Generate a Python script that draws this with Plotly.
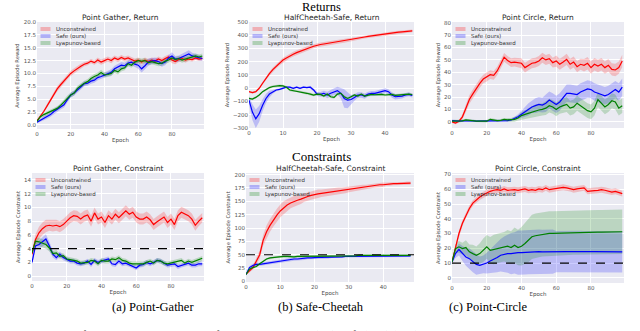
import plotly.graph_objects as go

## Data ##
ep100 = list(range(0, 100, 2))
ep50 = list(range(0, 49))

# Point Gather, Return
gather_ret_red = [0.8, 1.6, 2.6, 3.7, 4.8, 6.0, 7.0, 7.8, 8.6, 9.3,
                  10.0, 10.5, 11.0, 11.4, 11.8, 12.0, 12.4, 12.1, 12.6, 12.2,
                  12.5, 12.8, 12.5, 13.0, 12.7, 13.1, 12.8, 13.0, 12.7, 12.4,
                  12.6, 12.2, 12.6, 12.3, 12.6, 12.4, 12.8, 12.5, 12.9, 13.2,
                  12.6, 12.3, 12.7, 12.9, 12.6, 12.8, 12.7, 13.0, 12.8, 12.9]
gather_ret_blue = [0.5, 0.9, 1.3, 1.6, 2.0, 2.6, 3.0, 3.5, 3.9, 4.9,
                   5.8, 6.2, 6.8, 7.4, 8.0, 8.1, 8.5, 8.7, 9.2, 9.4,
                   9.7, 10.0, 10.2, 10.9, 11.2, 11.6, 11.5, 12.0, 12.2, 11.8,
                   11.6, 10.9, 11.5, 12.2, 12.4, 12.5, 12.3, 11.9, 12.2, 13.0,
                   13.4, 12.8, 12.9, 13.2, 13.5, 13.8, 13.4, 13.2, 13.0, 12.9]
gather_ret_green = [0.7, 1.6, 2.0, 2.3, 2.6, 2.9, 3.2, 3.8, 4.5, 5.2,
                    5.8, 6.2, 7.1, 7.6, 8.1, 8.4, 9.0, 9.4, 9.7, 10.2,
                    9.7, 9.8, 10.0, 10.6, 10.3, 10.9, 11.1, 11.9, 11.6, 12.2,
                    12.5, 12.4, 12.5, 12.1, 12.3, 12.1, 11.9, 12.0, 12.4, 12.6,
                    13.0, 12.7, 12.9, 12.6, 12.8, 13.0, 13.3, 13.4, 13.2, 13.4]
gather_ret_red_sd = [0.2, 0.3, 0.3, 0.4, 0.4, 0.5, 0.5, 0.5, 0.5, 0.5,
                     0.5, 0.5, 0.5, 0.5, 0.4, 0.4, 0.4, 0.4, 0.5, 0.5,
                     0.5, 0.5, 0.5, 0.5, 0.5, 0.5, 0.5, 0.5, 0.5, 0.5,
                     0.5, 0.5, 0.5, 0.5, 0.5, 0.5, 0.5, 0.5, 0.5, 0.5,
                     0.6, 0.5, 0.5, 0.5, 0.5, 0.4, 0.4, 0.4, 0.4, 0.4]
gather_ret_blue_sd = [0.2, 0.3, 0.4, 0.4, 0.4, 0.5, 0.5, 0.5, 0.5, 0.5,
                      0.5, 0.5, 0.5, 0.5, 0.5, 0.5, 0.5, 0.5, 0.5, 0.5,
                      0.5, 0.5, 0.6, 0.6, 0.6, 0.6, 0.6, 0.6, 0.6, 0.6,
                      0.7, 0.7, 0.7, 0.7, 0.6, 0.6, 0.6, 0.6, 0.6, 0.6,
                      0.7, 0.6, 0.6, 0.6, 0.6, 0.7, 0.6, 0.6, 0.5, 0.5]
gather_ret_green_sd = [0.2, 0.3, 0.3, 0.3, 0.4, 0.4, 0.4, 0.4, 0.5, 0.5,
                       0.5, 0.5, 0.5, 0.5, 0.5, 0.5, 0.5, 0.5, 0.5, 0.5,
                       0.5, 0.5, 0.5, 0.5, 0.5, 0.5, 0.5, 0.5, 0.5, 0.5,
                       0.5, 0.5, 0.5, 0.5, 0.5, 0.5, 0.5, 0.5, 0.5, 0.5,
                       0.5, 0.5, 0.5, 0.5, 0.5, 0.5, 0.5, 0.5, 0.5, 0.5]

# HalfCheetah-Safe, Return
cheetah_ret_red = [-26, -33, -26, 0, 38, 77, 110, 141, 167, 192,
                   213, 228, 244, 257, 269, 280, 290, 299, 308, 317,
                   326, 330, 334, 338, 342, 346, 350, 354, 358, 362,
                   367, 372, 377, 382, 387, 392, 396, 400, 404, 407,
                   410, 413, 416, 420, 423, 426, 428, 430, 433]
cheetah_ret_blue = [-90, -180, -231, -192, -128, -77, -44, -26, -13, -8,
                    0, 8, 8, 0, 8, 0, 8, 5, 8, -13,
                    -44, -46, -38, -51, -38, -26, -18, -38, -77, -90,
                    -85, -69, -51, -51, -59, -44, -38, -38, -33, -28,
                    -18, -26, -51, -64, -64, -59, -51, -46, -54]
cheetah_ret_green = [-77, -82, -69, -51, -26, -8, 5, 13, 18, 20,
                     18, 8, -13, -18, -18, -26, -33, -38, -44, -51,
                     -44, -46, -59, -44, -64, -69, -44, -38, -64, -77,
                     -64, -51, -59, -44, -59, -51, -46, -49, -46, -46,
                     -51, -49, -46, -54, -51, -49, -46, -44, -49]
cheetah_ret_red_sd = [8, 8, 8, 10, 12, 14, 15, 16, 17, 18,
                      18, 18, 18, 18, 18, 18, 18, 17, 17, 16,
                      16, 16, 15, 15, 15, 15, 14, 14, 14, 14,
                      13, 13, 13, 13, 12, 12, 12, 12, 12, 12,
                      12, 12, 12, 12, 11, 11, 11, 11, 11]
cheetah_ret_blue_sd = [30, 60, 70, 60, 45, 35, 25, 15, 10, 8,
                       8, 8, 8, 8, 8, 8, 8, 8, 10, 12,
                       15, 18, 20, 25, 25, 25, 30, 40, 70, 60,
                       35, 25, 20, 20, 20, 18, 18, 18, 18, 18,
                       18, 18, 20, 20, 18, 18, 15, 15, 15]
cheetah_ret_green_sd = [8, 8, 8, 8, 8, 8, 8, 9, 9, 9,
                        9, 9, 10, 10, 10, 10, 10, 10, 10, 10,
                        10, 10, 10, 10, 10, 10, 10, 10, 10, 10,
                        10, 10, 10, 10, 10, 10, 10, 10, 10, 10,
                        10, 10, 10, 10, 10, 10, 10, 10, 10]

# Point Circle, Return
circle_ret_red = [0, -1, 0.5, 4, 11, 18, 22.5, 27, 31, 34.5,
                  36, 38, 37.5, 41, 46.4, 52, 49.5, 47.7, 48.2, 47.7,
                  47.2, 43.7, 45.6, 47.2, 47.7, 49, 51.7, 49.9, 50.9, 47.7,
                  49, 46.4, 48.2, 50.4, 46.4, 48.2, 44.5, 46.4, 45.6, 47.2,
                  43.7, 46.4, 45, 46.4, 43.7, 45.6, 42.3, 41.8, 43.7, 49]
circle_ret_blue = [1, 0.5, 0.5, 0.8, 1, 1, 0.8, 0.5, 0.5, 0.5,
                   0.5, 0.5, 0.5, 0.8, 1, 1, 1, 1.5, 2.5, 4,
                   6, 8, 10, 12, 13, 14, 13.5, 15, 17.5, 16,
                   14, 16, 20, 23, 23, 22.5, 22, 24, 25, 26.5,
                   26, 24, 23, 22, 21, 22, 24, 26, 24, 28]
circle_ret_green = [0.5, 0.5, 0.5, 0.8, 1.5, 1, 0.8, 0.5, 0.5, 0.5,
                    0.5, 2, 1.5, 1, 1.2, 2, 1.5, 1.5, 2, 3,
                    5, 6, 7, 8, 9, 9.5, 10, 11, 13, 12,
                    10, 12, 13, 14, 11, 12, 15, 13, 11, 9,
                    8, 11, 18, 15, 12, 14, 17, 16, 11, 13]
circle_ret_red_sd = [1, 1, 1, 2, 3, 3.5, 3.5, 3.5, 3.5, 3.5,
                     3.5, 3.5, 3.5, 3.5, 3.5, 3.5, 3.5, 3.5, 3.5, 3.5,
                     4, 4, 4, 4, 4, 4, 4, 4, 4, 4,
                     4.5, 4.5, 4.5, 4.5, 4.5, 4.5, 4.5, 4.5, 5, 5,
                     5, 5, 5, 5, 5, 5, 5, 5, 5, 5]
circle_ret_blue_sd = [0.8, 0.8, 0.8, 0.8, 0.8, 0.8, 0.8, 0.8, 0.8, 0.8,
                      0.8, 0.8, 0.8, 0.8, 0.8, 1, 1, 1, 1.5, 2,
                      3, 4, 5, 5, 6, 6, 6, 7, 7, 7,
                      7, 7, 7, 7, 7, 7, 7, 7, 7, 7,
                      7, 7, 7, 7, 7, 7, 7, 7, 7, 7]
circle_ret_green_sd = [1, 1, 1, 1, 1, 1, 1, 1, 1, 1,
                       1, 1, 1, 1, 1, 1, 1.5, 1.5, 2, 2,
                       3, 3.5, 4, 4.5, 5, 5, 5, 5.5, 5.5, 5.5,
                       5.5, 5.5, 6, 6, 6, 6, 6, 6, 6, 6,
                       6, 6, 6, 6, 6, 6, 6, 6, 6, 6]

# Point Gather, Constraint
gather_con_red = [3.2, 5.3, 6.3, 6.9, 7.3, 7.4, 7.3, 7.4, 7.2, 7.5,
                  8.0, 8.5, 8.8, 8.7, 8.3, 8.7, 8.9, 8.0, 9.2, 8.3,
                  8.6, 7.8, 8.8, 8.3, 9.0, 8.5, 9.0, 9.5, 9.0, 9.3,
                  8.6, 8.3, 8.3, 8.6, 8.2, 7.5, 7.9, 8.3, 8.6, 7.8,
                  8.3, 7.5, 8.8, 9.3, 9.1, 8.8, 8.3, 7.4, 8.0, 8.5]
gather_con_blue = [2.0, 4.4, 4.6, 5.0, 5.4, 4.4, 3.2, 2.7, 3.2, 2.7,
                   2.4, 2.2, 2.2, 1.9, 1.8, 1.9, 2.2, 1.7, 2.3, 2.0,
                   2.2, 2.4, 2.5, 1.8, 1.7, 2.2, 1.8, 1.9, 1.7, 1.5,
                   1.2, 1.6, 1.7, 2.0, 1.8, 2.0, 2.3, 2.2, 1.9, 1.6,
                   1.7, 1.8, 1.4, 1.6, 1.8, 1.9, 1.6, 1.6, 1.8, 1.8]
gather_con_green = [3.4, 5.1, 5.0, 4.8, 4.6, 4.1, 3.3, 3.4, 2.9, 3.0,
                    2.5, 2.4, 2.3, 2.2, 1.9, 2.0, 2.0, 2.3, 2.2, 1.8,
                    2.3, 2.2, 2.2, 2.5, 2.4, 2.7, 2.3, 2.2, 1.9, 1.8,
                    1.8, 1.7, 1.8, 2.0, 2.2, 1.9, 2.3, 2.2, 1.9, 1.8,
                    1.9, 2.0, 2.2, 2.3, 1.9, 2.2, 2.0, 2.2, 2.3, 2.6]
gather_con_red_sd = [0.5, 0.8, 0.9, 0.9, 0.9, 0.8, 0.8, 0.8, 0.8, 0.8,
                     0.8, 0.8, 0.8, 0.8, 0.8, 0.8, 0.8, 0.8, 0.8, 0.8,
                     0.8, 0.8, 0.8, 0.8, 0.8, 0.8, 0.8, 0.8, 0.8, 0.8,
                     0.8, 0.8, 0.8, 0.8, 0.8, 0.8, 0.8, 0.8, 0.8, 0.8,
                     0.8, 0.8, 0.8, 0.8, 0.8, 0.8, 0.8, 0.8, 0.7, 0.7]
gather_con_blue_sd = [0.3, 0.5, 0.6, 0.7, 0.7, 0.6, 0.5, 0.4, 0.4, 0.4,
                      0.35, 0.35, 0.35, 0.35, 0.35, 0.35, 0.35, 0.35, 0.35, 0.35,
                      0.35, 0.35, 0.35, 0.35, 0.35, 0.35, 0.35, 0.35, 0.35, 0.35,
                      0.35, 0.35, 0.35, 0.35, 0.35, 0.35, 0.35, 0.35, 0.35, 0.35,
                      0.35, 0.35, 0.35, 0.35, 0.35, 0.35, 0.35, 0.35, 0.35, 0.35]
gather_con_green_sd = [0.3, 0.5, 0.6, 0.6, 0.6, 0.5, 0.4, 0.4, 0.35, 0.35,
                       0.35, 0.35, 0.35, 0.35, 0.35, 0.35, 0.35, 0.35, 0.35, 0.35,
                       0.35, 0.35, 0.35, 0.35, 0.35, 0.35, 0.35, 0.35, 0.35, 0.35,
                       0.35, 0.35, 0.35, 0.35, 0.35, 0.35, 0.35, 0.35, 0.35, 0.35,
                       0.35, 0.35, 0.35, 0.35, 0.35, 0.35, 0.35, 0.35, 0.35, 0.35]

# HalfCheetah-Safe, Constraint
cheetah_con_red = [14, 20, 26, 38, 50, 77, 93, 105, 115, 124,
                   132, 138, 143, 147, 150, 152, 154, 157, 159, 161,
                   163, 164, 165, 166, 167, 168, 169, 170, 170, 171,
                   172, 173, 174, 175, 176, 177, 178, 179, 180, 181,
                   181, 182, 182, 183, 183, 183, 183, 184, 184]
cheetah_con_blue = [13, 26, 30, 32, 32, 33, 34, 36, 37, 38,
                    39, 39, 40, 41, 42, 42, 43, 43, 44, 44,
                    45, 45, 45, 45, 45, 46, 46, 46, 46, 47,
                    47, 47, 47, 47, 47, 47, 47, 48, 48, 48,
                    48, 48, 48, 48, 48, 48, 48, 48, 48]
cheetah_con_green = [13, 23, 26, 28, 33, 38, 42, 44, 45, 46,
                     47, 47, 47, 46, 46, 47, 47, 47, 47, 47,
                     47, 48, 48, 47, 47, 47, 48, 48, 48, 48,
                     48, 48, 48, 49, 49, 49, 49, 49, 49, 49,
                     49, 49, 49, 49, 49, 49, 49, 49, 49]
cheetah_con_red_sd = [2, 3, 4, 6, 8, 10, 12, 12, 12, 12,
                      12, 12, 11, 10, 10, 9, 9, 8, 8, 8,
                      8, 8, 7, 7, 7, 6, 6, 6, 6, 6,
                      5, 5, 5, 5, 5, 4, 4, 4, 4, 4,
                      4, 3, 3, 3, 3, 3, 3, 3, 3]
cheetah_con_blue_sd = [2, 3, 3, 3, 3, 3, 3, 3, 3, 3,
                       3, 3, 3, 3, 3, 3, 3, 3, 2.5, 2.5,
                       2.5, 2.5, 2.5, 2.5, 2.5, 2, 2, 2, 2, 2,
                       2, 2, 2, 2, 2, 2, 2, 2, 2, 2,
                       2, 2, 2, 2, 2, 2, 2, 2, 2]
cheetah_con_green_sd = [2, 2, 2, 2, 2, 2, 2, 2, 2, 2,
                        2, 2, 2, 2, 2, 2, 2, 2, 2, 2,
                        2, 2, 2, 2, 2, 2, 2, 2, 2, 2,
                        2, 2, 2, 2, 2, 2, 2, 2, 2, 2,
                        2, 2, 2, 2, 2, 2, 2, 2, 2]

# Point Circle, Constraint
circle_con_red = [10.7, 21, 30, 37, 42.6, 47, 50.6, 52.9, 54.7, 56.3,
                  57.5, 58.6, 59.3, 59.7, 59.3, 60.2, 59.3, 59.7, 59.7, 59.3,
                  59.7, 60.2, 59.3, 59.7, 59.3, 60.2, 59.7, 60.9, 59.7, 60.2,
                  60.6, 60.9, 61.3, 60.9, 60.4, 59.7, 60.2, 60.6, 60.9, 58.6,
                  58.6, 59.1, 59.3, 59.7, 59.3, 58.6, 58.1, 58.6, 57.9, 57.0]
circle_con_blue = [10.7, 16.4, 19.2, 16.4, 14.1, 13, 10.7, 9.1, 8.4, 9.1,
                   10, 11.4, 12.3, 13.7, 15.3, 16, 16.4, 16.4, 16.9, 17.1,
                   17.1, 17.3, 17.5, 17.8, 18, 17.8, 17.6, 17.7, 17.8, 17.8,
                   17.7, 17.8, 17.9, 17.8, 17.8, 17.7, 17.8, 17.9, 17.8, 17.8,
                   17.7, 17.8, 17.8, 17.7, 17.7, 17.8, 17.8, 17.7, 17.6, 17.6]
circle_con_green = [10.7, 19.8, 21, 19.8, 20.5, 17.6, 16.4, 15.3, 16.4, 18.7,
                    21, 18.7, 19.2, 19.8, 20.5, 21, 21.4, 20.5, 22.1, 20.5,
                    21.4, 23.3, 25.5, 27.8, 28.5, 29, 29.4, 29.6, 30.1, 30.1,
                    30.2, 30.3, 30.4, 30.5, 30.5, 30.6, 30.7, 30.8, 30.8, 30.9,
                    30.9, 31, 31, 31, 31.1, 31.1, 31.2, 31.2, 31.2, 31.2]
circle_con_red_sd = [1, 1.5, 2, 2, 2, 2, 2, 2, 2, 2,
                     2, 2, 2, 2, 2, 2, 2, 2, 2, 2,
                     2, 2, 2, 2, 2, 2, 2, 2, 2, 2,
                     2, 2, 2, 2, 2, 2, 2, 2, 2, 2,
                     2, 2, 2, 2, 2, 2, 2, 2, 2, 2]
circle_con_blue_sd = [1, 3, 4, 5, 6, 7, 7, 7, 6, 6,
                      7, 8, 9, 10, 11, 12, 13, 14, 14, 15,
                      15, 15, 15, 15, 15, 15, 15, 15, 15, 15,
                      14, 14, 14, 14, 14, 14, 14, 14, 14, 14,
                      14, 14, 14, 14, 14, 14, 14, 14, 14, 14]
circle_con_green_sd = [1, 3, 4, 4, 5, 5, 6, 6, 7, 8,
                       8, 9, 10, 10, 10, 10, 11, 11, 12, 12,
                       13, 14, 15, 15, 15, 15, 15, 15, 15, 15,
                       15, 15, 15, 15, 15, 15, 15, 15, 15, 15,
                       15, 15, 15, 15, 15, 15, 15, 15, 15, 15]

series_names = ['Unconstrained', 'Safe (ours)', 'Lyapunov-based']
line_colors = ['#ff0000', '#0000ff', '#008000']
band_colors = ['rgba(255,0,0,0.2)', 'rgba(0,0,255,0.2)', 'rgba(0,128,0,0.2)']

W, H = 640, 331

# pixel boxes (left, right, top, bottom) of the six plot areas
panels = [
    dict(box=(37, 204, 22, 129), x=ep100, title='Point Gather, Return', ytitle='Average Episode Reward',
         ys=[gather_ret_red, gather_ret_blue, gather_ret_green],
         sds=[gather_ret_red_sd, gather_ret_blue_sd, gather_ret_green_sd],
         xr=[0, 99], yr=[-0.8, 20.0], dx=20, dy=2.5, fmt='.1f', limit=None),
    dict(box=(249, 414, 22, 128), x=ep50, title='HalfCheetah-Safe, Return', ytitle='Average Episode Reward',
         ys=[cheetah_ret_red, cheetah_ret_blue, cheetah_ret_green],
         sds=[cheetah_ret_red_sd, cheetah_ret_blue_sd, cheetah_ret_green_sd],
         xr=[0, 48.5], yr=[-300, 500], dx=10, dy=100, fmt='d', limit=None),
    dict(box=(452, 624, 22, 128), x=ep100, title='Point Circle, Return', ytitle='Average Episode Reward',
         ys=[circle_ret_red, circle_ret_blue, circle_ret_green],
         sds=[circle_ret_red_sd, circle_ret_blue_sd, circle_ret_green_sd],
         xr=[0, 99], yr=[-5, 80.5], dx=20, dy=10, fmt='d', limit=None),
    dict(box=(32, 204, 173, 281), x=ep100, title='Point Gather, Constraint', ytitle='Average Episode Constraint',
         ys=[gather_con_red, gather_con_blue, gather_con_green],
         sds=[gather_con_red_sd, gather_con_blue_sd, gather_con_green_sd],
         xr=[0, 99], yr=[-0.7, 15], dx=20, dy=2, fmt='d', limit=4),
    dict(box=(246, 414, 173, 282), x=ep50, title='HalfCheetah-Safe, Constraint', ytitle='Average Episode Constraint',
         ys=[cheetah_con_red, cheetah_con_blue, cheetah_con_green],
         sds=[cheetah_con_red_sd, cheetah_con_blue_sd, cheetah_con_green_sd],
         xr=[0, 49], yr=[-1, 203], dx=10, dy=25, fmt='d', limit=50),
    dict(box=(452, 624, 173, 283), x=ep100, title='Point Circle, Constraint', ytitle='Average Episode Constraint',
         ys=[circle_con_red, circle_con_blue, circle_con_green],
         sds=[circle_con_red_sd, circle_con_blue_sd, circle_con_green_sd],
         xr=[0, 99], yr=[-3.5, 71], dx=20, dy=10, fmt='d', limit=10),
]

fig = go.Figure()
tick_font = dict(family='DejaVu Sans', size=5.5, color='#555555')
layout = {}
shapes = []
annotations = []

for i, p in enumerate(panels):
    n = '' if i == 0 else str(i + 1)
    xa, ya = 'x' + n, 'y' + n
    l, r, t, b = p['box']
    layout['xaxis' + n] = dict(
        domain=[l / W, r / W], anchor=ya, range=p['xr'], dtick=p['dx'], tick0=0,
        showgrid=True, gridcolor='white', gridwidth=0.8, zeroline=False, showline=False,
        ticks='', tickfont=tick_font, automargin=False,
        title=dict(text='Epoch', font=dict(family='DejaVu Sans', size=5.5, color='#444'), standoff=2))
    layout['yaxis' + n] = dict(
        domain=[1 - b / H, 1 - t / H], anchor=xa, range=p['yr'], dtick=p['dy'], tick0=0,
        tickformat=p['fmt'],
        showgrid=True, gridcolor='white', gridwidth=0.8, zeroline=False, showline=False,
        ticks='', tickfont=tick_font, automargin=False,
        title=dict(text=p['ytitle'], font=dict(family='DejaVu Sans', size=5.2, color='#444'), standoff=3))

    x = p['x']
    for y, sd, lc, bc, name in zip(p['ys'], p['sds'], line_colors, band_colors, series_names):
        upper = [v + s for v, s in zip(y, sd)]
        lower = [v - s for v, s in zip(y, sd)]
        fig.add_trace(go.Scatter(x=x + x[::-1], y=upper + lower[::-1], fill='toself',
                                 fillcolor=bc, line=dict(width=0), hoverinfo='skip',
                                 showlegend=False, xaxis=xa, yaxis=ya))
    for y, lc, name in zip(p['ys'], line_colors, series_names):
        fig.add_trace(go.Scatter(x=x, y=y, mode='lines', line=dict(color=lc, width=1.2),
                                 name=name, showlegend=False, xaxis=xa, yaxis=ya))

    if p['limit'] is not None:
        shapes.append(dict(type='line', xref=xa + ' domain', yref=ya, x0=0, x1=1,
                           y0=p['limit'], y1=p['limit'],
                           line=dict(color='black', width=1.2, dash='dash')))

    # subplot title
    annotations.append(dict(text=p['title'], xref='paper', yref='paper',
                            x=(l + r) / 2 / W, y=1 - (t - 5) / H, showarrow=False,
                            xanchor='center', yanchor='middle',
                            font=dict(family='DejaVu Sans', size=7.5, color='#262626')))

    # seaborn-like legend: light patch + label
    wpx, hpx = r - l, b - t
    for k, (bc, name) in enumerate(zip(band_colors, series_names)):
        yc = 7 + 7 * k
        shapes.append(dict(type='rect', xref=xa + ' domain', yref=ya + ' domain',
                           x0=3.5 / wpx, x1=13.5 / wpx,
                           y0=1 - (yc + 2) / hpx, y1=1 - (yc - 2) / hpx,
                           fillcolor=bc.replace('0.2)', '0.25)'), line=dict(width=0)))
        annotations.append(dict(text=name, xref=xa + ' domain', yref=ya + ' domain',
                                x=16.5 / wpx, y=1 - yc / hpx, showarrow=False,
                                xanchor='left', yanchor='middle',
                                font=dict(family='DejaVu Sans', size=5.5, color='#333333')))

serif = 'Liberation Serif'
head = dict(xref='paper', yref='paper', showarrow=False, yanchor='middle')
annotations += [
    dict(text='Returns', x=321 / W, y=1 - 6.5 / H, font=dict(family=serif, size=12.5, color='black'), **head),
    dict(text='Constraints', x=321 / W, y=1 - 156 / H, font=dict(family=serif, size=13, color='black'), **head),
    dict(text='(a) Point-Gather', x=110 / W, y=1 - 307 / H, font=dict(family=serif, size=12.5, color='black'), **head),
    dict(text='(b) Safe-Cheetah', x=321 / W, y=1 - 307 / H, font=dict(family=serif, size=12.5, color='black'), **head),
    dict(text='(c) Point-Circle', x=530 / W, y=1 - 307 / H, font=dict(family=serif, size=12.5, color='black'), **head),
    dict(text='Figure 2: PPO Performance and constraint plots for the Unconstrained (red), Safe (ours) (blue) and Lyapunov-based (green) algorithms in all tasks.',
         x=0, y=1 - 334 / H, xanchor='left', font=dict(family=serif, size=11, color='black'), **head),
]

fig.update_layout(
    width=W, height=H, margin=dict(l=0, r=0, t=0, b=0),
    paper_bgcolor='white', plot_bgcolor='#EAEAF2',
    showlegend=False, shapes=shapes, annotations=annotations, **layout)

# the page body has a default 8px margin; remove it so the figure fills the window
fig.write_html("out.html", config={'displayModeBar': False},
               post_script="document.body.style.margin='0';document.body.style.overflow='hidden';")
